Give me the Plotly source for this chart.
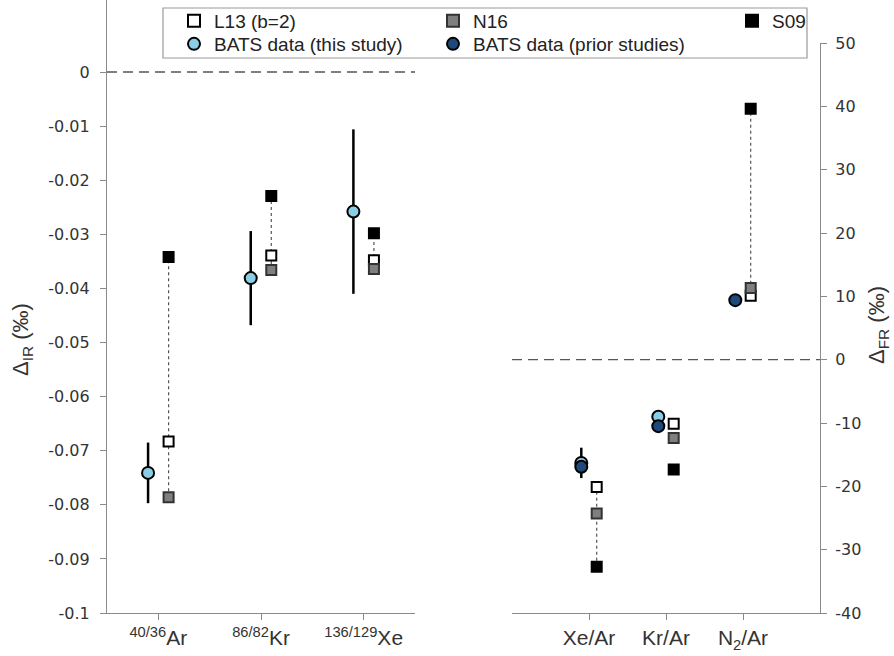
import plotly.graph_objects as go

# ---------------- data ----------------
left_cats = ["<sup>40/36</sup>Ar", "<sup>86/82</sup>Kr", "<sup>136/129</sup>Xe"]
left_this = [-0.0741, -0.0381, -0.0258]
left_this_err = [0.0056, 0.0087, 0.0152]
left_L13 = [-0.0683, -0.0339, -0.0348]
left_N16 = [-0.0786, -0.0366, -0.0364]
left_S09 = [-0.0342, -0.0229, -0.0298]

right_cats = ["Xe/Ar", "Kr/Ar", "N<sub>2</sub>/Ar"]
right_this = [-16.3, -9.0, None]
right_this_err = [2.4, 0.4, None]
right_prior = [-16.9, -10.5, 9.4]
right_prior_err = [1.0, 0.4, 0.4]
right_L13 = [-20.1, -10.1, 10.1]
right_N16 = [-24.3, -12.35, 11.3]
right_S09 = [-32.7, -17.35, 39.6]
right_range_shown = [True, False, True]

left_ticks = [0, -0.01, -0.02, -0.03, -0.04, -0.05, -0.06, -0.07, -0.08, -0.09, -0.1]
left_ticktext = ["0", "-0.01", "-0.02", "-0.03", "-0.04", "-0.05", "-0.06", "-0.07", "-0.08", "-0.09", "-0.1"]
right_ticks = [50, 40, 30, 20, 10, 0, -10, -20, -30, -40]
right_ticktext = ["50", "40", "30", "20", "10", "0", "-10", "-20", "-30", "-40"]

# ---------------- style ----------------
OFF = 0.1
LIGHT = "#8ccde6"
DARK = "#1d4a7a"
FONT = "Liberation Sans"
TICKFONT = "DejaVu Sans"
AXC = "#8a8a8a"

W, H = 894, 656
MB = 43
PH = H - MB

def px_x(p):
    return p / W

def px_y(p):
    return 1 - p / PH

fig = go.Figure()

def xs(n, off):
    return [i + off for i in range(n)]

def range_lines(models, shown=None):
    x, y = [], []
    for i in range(len(models[0])):
        if shown is not None and not shown[i]:
            continue
        vals = [m[i] for m in models]
        x += [i + OFF, i + OFF, None]
        y += [min(vals), max(vals), None]
    return x, y

# dotted model ranges
lx, ly = range_lines([left_L13, left_N16, left_S09])
fig.add_trace(go.Scatter(x=lx, y=ly, mode="lines", xaxis="x", yaxis="y",
                         line=dict(color="#555", width=1.2, dash="dot"), showlegend=False, hoverinfo="skip"))
rx, ry = range_lines([right_L13, right_N16, right_S09], right_range_shown)
fig.add_trace(go.Scatter(x=rx, y=ry, mode="lines", xaxis="x2", yaxis="y2",
                         line=dict(color="#555", width=1.2, dash="dot"), showlegend=False, hoverinfo="skip"))

models = [
    ("L13 (b=2)", left_L13, right_L13, dict(color="white", line=dict(color="black", width=2)), "legend"),
    ("N16", left_N16, right_N16, dict(color="#7f7f7f", line=dict(color="#333", width=2)), "legend2"),
    ("S09", left_S09, right_S09, dict(color="black", line=dict(color="black", width=2)), "legend3"),
]
for name, lv, rv, mk, leg in models:
    m = dict(symbol="square", size=10, **mk)
    fig.add_trace(go.Scatter(x=xs(3, OFF), y=lv, mode="markers", name=name, marker=m,
                             xaxis="x", yaxis="y", legend=leg, legendgroup=name))
    fig.add_trace(go.Scatter(x=xs(3, OFF), y=rv, mode="markers", name=name, marker=m,
                             xaxis="x2", yaxis="y2", legend=leg, legendgroup=name, showlegend=False))

circ_light = dict(symbol="circle", size=12, color=LIGHT, line=dict(color="black", width=2))
circ_dark = dict(symbol="circle", size=12, color=DARK, line=dict(color="black", width=2))
errstyle = dict(type="data", visible=True, color="black", thickness=2.5, width=0)

fig.add_trace(go.Scatter(x=xs(3, -OFF), y=left_this, mode="markers", name="BATS data (this study)",
                         marker=circ_light, error_y=dict(array=left_this_err, **errstyle),
                         xaxis="x", yaxis="y", legend="legend4", legendgroup="this"))
fig.add_trace(go.Scatter(x=xs(3, -OFF), y=right_this, mode="markers", name="BATS data (this study)",
                         marker=circ_light, error_y=dict(array=right_this_err, **errstyle),
                         xaxis="x2", yaxis="y2", legend="legend4", legendgroup="this", showlegend=False))
fig.add_trace(go.Scatter(x=xs(3, -OFF), y=right_prior, mode="markers", name="BATS data (prior studies)",
                         marker=circ_dark, error_y=dict(array=right_prior_err, **errstyle),
                         xaxis="x2", yaxis="y2", legend="legend5", legendgroup="prior"))

common_y = dict(showgrid=False, zeroline=False, showline=True, linecolor=AXC, linewidth=1.3,
                ticks="outside", ticklen=6, tickcolor=AXC, tickwidth=1.3,
                tickfont=dict(family=TICKFONT, size=16, color="#333"))
common_x = dict(showgrid=False, zeroline=False, showline=True, linecolor=AXC, linewidth=1.3,
                ticks="outside", ticklen=6, tickcolor=AXC, tickwidth=1.3,
                tickfont=dict(family=FONT, size=21, color="#333"))

legfont = dict(family=FONT, size=19, color="#222")
legcommon = dict(bgcolor="rgba(0,0,0,0)", borderwidth=0, font=legfont, orientation="v",
                 yanchor="top", xanchor="left", tracegroupgap=0, itemsizing="constant")

ROW1, ROW2 = 22, 45
LOFF = 20  # px from legend top to first item centre

fig.update_layout(
    width=W, height=H,
    margin=dict(l=0, r=0, t=0, b=MB, autoexpand=False),
    plot_bgcolor="white", paper_bgcolor="white",
    xaxis=dict(domain=[px_x(107), px_x(415)], range=[-0.5, 2.5], anchor="y",
               tickvals=[0, 1, 2], ticktext=left_cats, **common_x),
    yaxis=dict(domain=[0, 1], range=[-0.1, 72 / 5410], anchor="x",
               tickvals=left_ticks, ticktext=left_ticktext, ticklabelstandoff=7, **common_y),
    xaxis2=dict(domain=[px_x(512), px_x(820)], range=[-1, 3], anchor="y2",
                tickvals=[0, 1, 2], ticktext=right_cats, **common_x),
    yaxis2=dict(domain=[0, (613 - 43) / PH], range=[-40, 50], anchor="x2", side="right",
                tickvals=right_ticks, ticktext=right_ticktext, ticklabelstandoff=5, **common_y),
    legend=dict(x=px_x(174), y=px_y(ROW1 - LOFF), **legcommon),
    legend2=dict(x=px_x(433), y=px_y(ROW1 - LOFF), **legcommon),
    legend3=dict(x=px_x(732), y=px_y(ROW1 - LOFF), **legcommon),
    legend4=dict(x=px_x(174), y=px_y(ROW2 - LOFF), **legcommon),
    legend5=dict(x=px_x(433), y=px_y(ROW2 - LOFF), **legcommon),
    shapes=[
        dict(type="line", xref="x domain", yref="y", x0=0, x1=1, y0=0, y1=0,
             line=dict(color="#555", width=1.3, dash="10px,6px"), layer="below"),
        dict(type="line", xref="x2 domain", yref="y2", x0=0, x1=1, y0=0, y1=0,
             line=dict(color="#555", width=1.3, dash="10px,6px"), layer="below"),
        dict(type="rect", xref="paper", yref="paper", x0=px_x(163), x1=px_x(807),
             y0=px_y(58), y1=px_y(8), line=dict(color="#999", width=1.2), fillcolor="white", layer="above"),
    ],
    annotations=[
        dict(text="Δ<sub>IR</sub> (‰)", xref="paper", yref="paper", x=px_x(22), y=px_y(340),
             textangle=-90, showarrow=False, font=dict(family=FONT, size=22, color="#333"),
             xanchor="center", yanchor="middle"),
        dict(text="Δ<sub>FR</sub> (‰)", xref="paper", yref="paper", x=px_x(878), y=px_y(325),
             textangle=-90, showarrow=False, font=dict(family=FONT, size=22, color="#333"),
             xanchor="center", yanchor="middle"),
    ],
)

fig.write_html("out.html")
